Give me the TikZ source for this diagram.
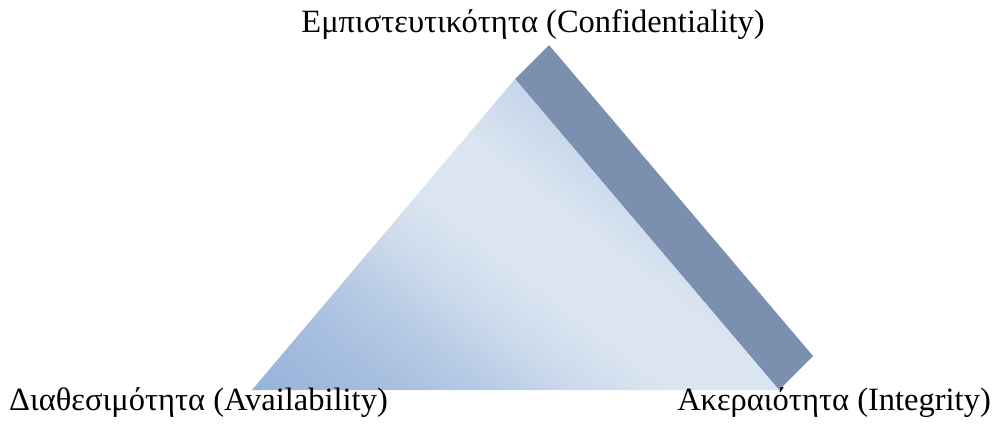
\documentclass[tikz,border=0pt]{standalone}
\usepackage{fontspec}
\setmainfont{Liberation Serif}
\definecolor{triDark}{RGB}{149,179,217}
\definecolor{triDeep}{RGB}{169,192,224}
\definecolor{triMid}{RGB}{185,204,230}
\definecolor{triPale}{RGB}{204,218,236}
\definecolor{triLight}{RGB}{219,229,241}
\definecolor{triTop}{RGB}{192,209,232}
\definecolor{bandBlue}{RGB}{123,143,175}
\pgfdeclarehorizontalshading{triface}{800bp}{color(0bp)=(triDark); color(18bp)=(triDark);
  color(113bp)=(triDeep); color(170bp)=(triMid); color(220bp)=(triPale);
  color(276bp)=(triLight); color(350bp)=(triLight);
  color(440bp)=(triTop)}

\begin{document}
\begin{tikzpicture}[x=1pt, y=-1pt,
  lbl/.style={font=\fontsize{32.5}{39}\selectfont, inner sep=0pt},
  band/.style={fill=bandBlue}]
\useasboundingbox (0,0) rectangle (993,430);
\coordinate (conftop) at (515,79);
\coordinate (availpt) at (252,390);
\coordinate (integpt) at (779,390);
\coordinate (confband) at (549,45);
\coordinate (integband) at (813,356);
\fill[band] (conftop)--(confband)--(integband)--(integpt)--cycle;
\begin{scope}
\clip (conftop)--(availpt)--(integpt)--cycle;
\node[rotate=52, inner sep=0pt] (facefill) at (489,319) {\pgfuseshading{triface}};
\end{scope}
\node[lbl, anchor=base] (conf) at (533,33) {Εμπιστευτικότητα (Confidentiality)};
\node[lbl, anchor=base west] (avail) at (9,410) {Διαθεσιμότητα (Availability)};
\node[lbl, anchor=base east] (integ) at (991,410) {Ακεραιότητα (Integrity)};
\end{tikzpicture}
\end{document}
